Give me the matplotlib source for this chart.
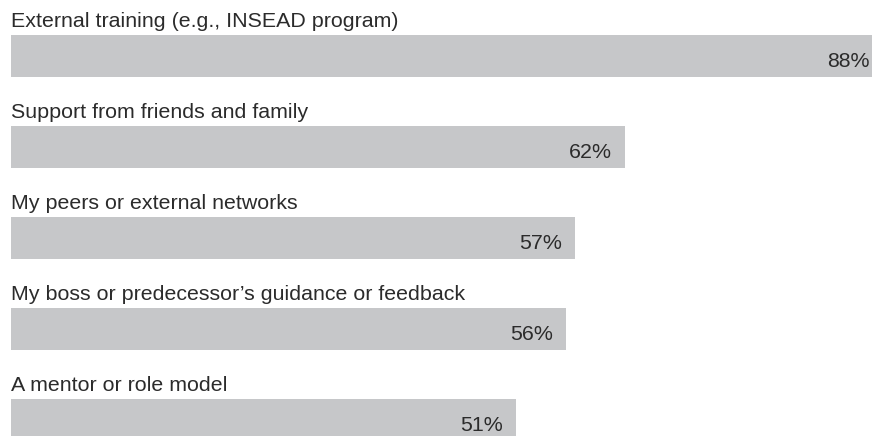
import matplotlib
matplotlib.use("Agg")
import matplotlib.pyplot as plt

labels = [
    "External training (e.g., INSEAD program)",
    "Support from friends and family",
    "My peers or external networks",
    "My boss or predecessor’s guidance or feedback",
    "A mentor or role model",
]
values = [88, 62, 57, 56, 51]

plt.rcParams["font.family"] = ["Liberation Sans", "DejaVu Sans"]

W, H, DPI = 872, 436, 100
fig = plt.figure(figsize=(W / DPI, H / DPI), dpi=DPI)
x0 = 10.6
ax = fig.add_axes([x0 / W, 0, 1 - x0 / W, 1])

# pixel layout: bar pitch 91px, bar height 42px, first bar center at 56px
pitch, bar_h, first = 91, 42, 56
ax.set_xlim(0, (W - x0) / 9.91)
ax.set_ylim((H - first) / pitch, -first / pitch)

ys = list(range(len(values)))
ax.barh(ys, values, height=bar_h / pitch, color="#c6c7c9", linewidth=0)

for y, lab, v in zip(ys, labels, values):
    ax.annotate(lab, (0, y), xytext=(0, bar_h / 2 + 8), textcoords="offset pixels",
                ha="left", va="baseline", fontsize=15.4, color="#2b2b2b",
                annotation_clip=False)
    ax.annotate(f"{v}%", (v, y), xytext=(-13, -11), textcoords="offset pixels",
                ha="right", va="baseline", fontsize=15.4, color="#2b2b2b",
                annotation_clip=False)

ax.axis("off")
fig.savefig("out.png", dpi=DPI)
